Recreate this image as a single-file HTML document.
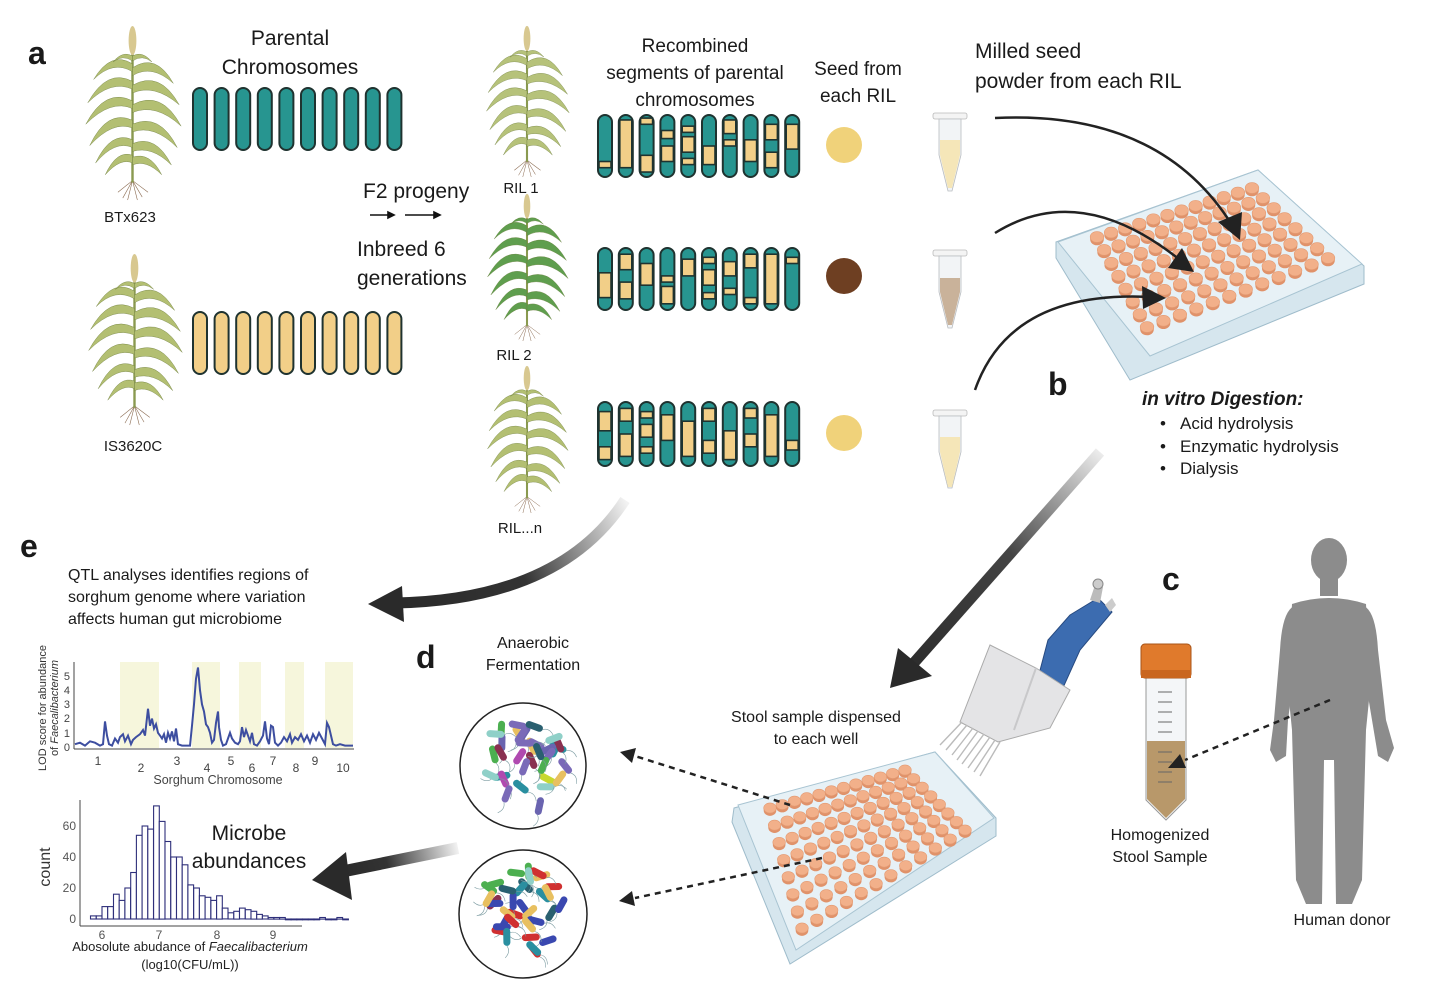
<!DOCTYPE html>
<html><head><meta charset="utf-8">
<style>
html,body{margin:0;padding:0;background:#fff;}
svg{display:block;font-family:"Liberation Sans",sans-serif;}
</style></head>
<body>
<svg id="s" width="1430" height="1001" viewBox="0 0 1430 1001" xmlns="http://www.w3.org/2000/svg">
<defs>
<symbol id="plant" viewBox="0 0 100 180" overflow="visible">
  <g stroke="#8a6a50" stroke-width="0.6" fill="none">
    <path d="M50 160 L40 178 M50 160 L45 180 M50 160 L55 180 M50 160 L60 177 M50 160 L35 172 M50 160 L66 172"/>
  </g>
  <path d="M50 30 L50 162" stroke="#8a9a50" stroke-width="2.5"/>
  <ellipse cx="50" cy="16" rx="4" ry="15" fill="#d8c890"/>
  <g fill="currentColor" stroke="#6a7a3a" stroke-width="0.4">
    <path d="M50 40 Q28 26 10 56 Q30 36 50 48Z"/>
    <path d="M50 44 Q74 28 92 60 Q70 40 50 52Z"/>
    <path d="M50 58 Q24 44 4 80 Q28 56 50 66Z"/>
    <path d="M50 62 Q78 46 98 82 Q72 60 50 70Z"/>
    <path d="M50 78 Q22 64 2 102 Q28 76 50 86Z"/>
    <path d="M50 82 Q80 66 100 104 Q74 80 50 90Z"/>
    <path d="M50 98 Q24 86 6 124 Q30 98 50 106Z"/>
    <path d="M50 102 Q78 90 96 126 Q72 102 50 110Z"/>
    <path d="M50 118 Q28 108 12 142 Q32 118 50 126Z"/>
    <path d="M50 122 Q74 112 90 144 Q70 124 50 130Z"/>
    <path d="M50 134 Q34 128 22 154 Q38 136 50 142Z"/>
    <path d="M50 136 Q68 130 80 154 Q64 138 50 144Z"/>
    <path d="M50 32 Q40 26 30 38 Q40 30 50 37Z"/>
    <path d="M50 32 Q60 26 70 38 Q60 30 50 37Z"/>
  </g>
</symbol>
<symbol id="mtube" viewBox="0 0 34 80" overflow="visible">
  <rect x="0" y="0" width="34" height="6" rx="2" fill="#f4f4f4" stroke="#bbb" stroke-width="0.8"/>
  <path d="M6 6 L28 6 L28 42 L19 78 L15 78 L6 42Z" fill="#f2f4f6" stroke="#b8bcc0" stroke-width="0.8"/>
</symbol>
<linearGradient id="gA" gradientUnits="userSpaceOnUse" x1="1100" y1="450" x2="900" y2="680"><stop offset="0" stop-color="#eee"/><stop offset="0.45" stop-color="#444"/><stop offset="1" stop-color="#2a2a2a"/></linearGradient>
<linearGradient id="gB" gradientUnits="userSpaceOnUse" x1="625" y1="500" x2="400" y2="605"><stop offset="0" stop-color="#f2f2f2"/><stop offset="0.5" stop-color="#333"/><stop offset="1" stop-color="#2a2a2a"/></linearGradient>
<linearGradient id="gC" gradientUnits="userSpaceOnUse" x1="458" y1="848" x2="340" y2="875"><stop offset="0" stop-color="#f2f2f2"/><stop offset="0.6" stop-color="#333"/><stop offset="1" stop-color="#2a2a2a"/></linearGradient>
</defs>

<g fill="#1a1a1a">
<text x="28" y="64" font-size="32" font-weight="bold">a</text>
<text x="290" y="45" font-size="21" text-anchor="middle">Parental</text>
<text x="290" y="74" font-size="21" text-anchor="middle">Chromosomes</text>
<text x="130" y="222" font-size="15" text-anchor="middle">BTx623</text>
<text x="133" y="451" font-size="15" text-anchor="middle">IS3620C</text>
<text x="363" y="198" font-size="21">F2 progeny</text>
<text x="357" y="256" font-size="21">Inbreed 6</text>
<text x="357" y="285" font-size="21">generations</text>
<text x="521" y="193" font-size="15" text-anchor="middle">RIL 1</text>
<text x="514" y="360" font-size="15" text-anchor="middle">RIL 2</text>
<text x="520" y="533" font-size="15" text-anchor="middle">RIL...n</text>
<text x="695" y="52" font-size="19" text-anchor="middle">Recombined</text>
<text x="695" y="79" font-size="19" text-anchor="middle">segments of parental</text>
<text x="695" y="106" font-size="19" text-anchor="middle">chromosomes</text>
<text x="858" y="75" font-size="19" text-anchor="middle">Seed from</text>
<text x="858" y="102" font-size="19" text-anchor="middle">each RIL</text>
<text x="975" y="58" font-size="21">Milled seed</text>
<text x="975" y="88" font-size="21">powder from each RIL</text>
<text x="1048" y="395" font-size="32" font-weight="bold">b</text>
<text x="1142" y="405" font-size="19" font-weight="bold" font-style="italic">in vitro Digestion:</text>
<text x="1160" y="429" font-size="17">•</text><text x="1180" y="429" font-size="17">Acid hydrolysis</text>
<text x="1160" y="452" font-size="17">•</text><text x="1180" y="452" font-size="17">Enzymatic hydrolysis</text>
<text x="1160" y="474" font-size="17">•</text><text x="1180" y="474" font-size="17">Dialysis</text>
<text x="20" y="557" font-size="32" font-weight="bold">e</text>
<text x="68" y="580" font-size="16">QTL analyses identifies regions of</text>
<text x="68" y="602" font-size="16">sorghum genome where variation</text>
<text x="68" y="624" font-size="16">affects human gut microbiome</text>
<text x="416" y="668" font-size="32" font-weight="bold">d</text>
<text x="533" y="648" font-size="16" text-anchor="middle">Anaerobic</text>
<text x="533" y="670" font-size="16" text-anchor="middle">Fermentation</text>
<text x="816" y="722" font-size="16" text-anchor="middle">Stool sample dispensed</text>
<text x="816" y="744" font-size="16" text-anchor="middle">to each well</text>
<text x="1162" y="590" font-size="32" font-weight="bold">c</text>
<text x="1160" y="840" font-size="16" text-anchor="middle">Homogenized</text>
<text x="1160" y="862" font-size="16" text-anchor="middle">Stool Sample</text>
<text x="1342" y="925" font-size="16" text-anchor="middle">Human donor</text>
<text x="249" y="840" font-size="21" text-anchor="middle">Microbe</text>
<text x="249" y="868" font-size="21" text-anchor="middle">abundances</text>
</g>

<use href="#plant" x="80" y="25" width="105" height="175" style="color:#b3bf72"/>
<use href="#plant" x="82" y="253" width="105" height="172" style="color:#b3bf72"/>
<use href="#plant" x="478" y="25" width="98" height="152" style="color:#b6c27a"/>
<use href="#plant" x="478" y="193" width="98" height="148" style="color:#5f9e4e"/>
<use href="#plant" x="478" y="365" width="98" height="148" style="color:#b3bf72"/>

<g stroke="#111" stroke-width="1.6" fill="#111">
<line x1="370" y1="215" x2="390" y2="215"/><path d="M394 215 l-6 -3 v6z"/>
<line x1="405" y1="215" x2="436" y2="215"/><path d="M440 215 l-6 -3 v6z"/>
</g>

<g id="chroms"></g>

<circle cx="844" cy="145" r="18" fill="#f0d27a"/>
<circle cx="844" cy="276" r="18" fill="#6e3f22"/>
<circle cx="844" cy="433" r="18" fill="#f0d27a"/>

<use href="#mtube" x="933" y="113" width="34" height="80"/>
<path d="M940 140 L960 140 L960 155 L952 188 L948 188 L940 155Z" fill="#f5e6b8"/>
<use href="#mtube" x="933" y="250" width="34" height="80"/>
<path d="M940 278 L960 278 L960 292 L952 325 L948 325 L940 292Z" fill="#c9b29a"/>
<use href="#mtube" x="933" y="410" width="34" height="80"/>
<path d="M940 437 L960 437 L960 452 L952 487 L948 487 L940 452Z" fill="#f5e6b8"/>

<g id="plates"></g>

<g fill="none" stroke="#222" stroke-width="2.5">
<path d="M995 118 Q1160 110 1232 225"/>
<path d="M995 233 Q1080 180 1180 260"/>
<path d="M975 390 Q1010 290 1150 297"/>
</g>
<g fill="#222">
<path d="M1240 240 L1218 222 L1242 212Z"/>
<path d="M1194 272 L1168 268 L1182 248Z"/>
<path d="M1166 298 L1143 309 L1142 286Z"/>
</g>

<path d="M1100 452 L912 665" stroke="url(#gA)" stroke-width="11" fill="none"/>
<path d="M890 688 L898 648 L932 676Z" fill="#2a2a2a"/>
<path d="M625 500 Q560 600 395 603" stroke="url(#gB)" stroke-width="11" fill="none"/>
<path d="M368 604 L402 586 L404 622Z" fill="#2a2a2a"/>
<path d="M458 848 Q400 860 340 872" stroke="url(#gC)" stroke-width="12" fill="none"/>
<path d="M312 880 L346 852 L352 900Z" fill="#2a2a2a"/>

<circle cx="523" cy="766" r="63" fill="#fff" stroke="#222" stroke-width="1.5"/>
<circle cx="523" cy="914" r="64" fill="#fff" stroke="#222" stroke-width="1.5"/>
<g id="bugs"></g>

<g>
<path d="M1070 615 L1098 598 L1112 612 L1080 650 L1062 690 L1038 678 L1048 640Z" fill="#3c6cb0" stroke="#274a80" stroke-width="1"/>
<path d="M1090 600 L1095 585 L1103 587 L1100 603Z" fill="#bbb"/>
<circle cx="1098" cy="584" r="5" fill="#ccc" stroke="#888"/>
<path d="M1105 605 L1112 598 L1116 605 L1110 612Z" fill="#ccc"/>
<path d="M990 645 L1036 668 L1070 690 L1050 728 L998 742 L960 722Z" fill="#e4e4e6" stroke="#aaa" stroke-width="1"/>
<path d="M1036 668 L1014 730" stroke="#c8c8ca" stroke-width="2"/>
<g stroke="#bbb" stroke-width="1.4">
<line x1="962" y1="722" x2="940" y2="745"/><line x1="967" y1="725" x2="946" y2="750"/><line x1="973" y1="728" x2="952" y2="755"/><line x1="978" y1="731" x2="957" y2="760"/><line x1="984" y1="734" x2="962" y2="764"/><line x1="990" y1="737" x2="968" y2="768"/><line x1="995" y1="740" x2="974" y2="772"/><line x1="1000" y1="742" x2="980" y2="776"/>
</g>
</g>

<g>
<path d="M1146 676 L1186 676 L1186 800 L1166 820 L1146 800Z" fill="#f4f6f8" stroke="#999" stroke-width="1"/>
<path d="M1147 741 L1185 741 L1185 799 L1166 818 L1147 799Z" fill="#b8986a"/>
<rect x="1141" y="644" width="50" height="34" rx="4" fill="#e07a2c" stroke="#a85418"/>
<rect x="1141" y="670" width="50" height="8" fill="#c9661f"/>
<g stroke="#666" stroke-width="1"><line x1="1158" y1="692" x2="1172" y2="692"/><line x1="1158" y1="702" x2="1172" y2="702"/><line x1="1158" y1="712" x2="1172" y2="712"/><line x1="1158" y1="722" x2="1172" y2="722"/><line x1="1158" y1="732" x2="1172" y2="732"/><line x1="1158" y1="752" x2="1172" y2="752"/><line x1="1158" y1="762" x2="1172" y2="762"/><line x1="1158" y1="772" x2="1172" y2="772"/><line x1="1158" y1="782" x2="1172" y2="782"/></g>
</g>

<g fill="#8c8c8c">
<ellipse cx="1329" cy="560" rx="18" ry="22"/>
<rect x="1320" y="578" width="18" height="18"/>
<path d="M1292 604 Q1329 592 1366 604 L1370 690 L1366 730 L1362 880 L1352 904 L1336 904 L1334 760 L1324 760 L1322 904 L1306 904 L1296 880 L1292 730 L1288 690Z"/>
<path d="M1294 606 Q1282 612 1280 650 L1274 720 L1270 750 L1276 762 L1286 756 L1288 720 L1296 660Z"/>
<path d="M1364 606 Q1376 612 1378 650 L1386 720 L1394 748 L1388 762 L1378 756 L1372 720 L1362 660Z"/>
</g>

<g stroke="#222" stroke-width="2.5" stroke-dasharray="6 5" fill="none">
<path d="M790 805 L635 756"/>
<path d="M822 858 L635 898"/>
<path d="M1330 700 L1185 760"/>
</g>
<g fill="#222">
<path d="M620 752 L636 748 L632 763Z"/>
<path d="M619 901 L632 891 L635 906Z"/>
<path d="M1168 768 L1180 754 L1186 768Z"/>
</g>

<g id="lod">
<rect x="120" y="662" width="39" height="86" fill="#f6f6dc"/>
<rect x="192" y="662" width="28" height="86" fill="#f6f6dc"/>
<rect x="239" y="662" width="22" height="86" fill="#f6f6dc"/>
<rect x="285" y="662" width="19" height="86" fill="#f6f6dc"/>
<rect x="325" y="662" width="28" height="86" fill="#f6f6dc"/>
<line x1="74" y1="662" x2="74" y2="749" stroke="#444" stroke-width="1"/>
<line x1="74" y1="749" x2="354" y2="749" stroke="#444" stroke-width="1"/>
<g font-size="11" fill="#444" text-anchor="end">
<text x="70" y="751">0</text><text x="70" y="737">1</text><text x="70" y="722">2</text><text x="70" y="708">3</text><text x="70" y="694">4</text><text x="70" y="680">5</text>
</g>
<g font-size="12" fill="#444" text-anchor="middle">
<text x="98" y="765">1</text><text x="141" y="772">2</text><text x="177" y="765">3</text><text x="207" y="772">4</text><text x="231" y="765">5</text><text x="252" y="772">6</text><text x="273" y="765">7</text><text x="296" y="772">8</text><text x="315" y="765">9</text><text x="343" y="772">10</text>
<text x="218" y="784" font-size="12.5">Sorghum Chromosome</text>
</g>
<text transform="translate(46,708) rotate(-90)" font-size="11" fill="#333" text-anchor="middle">LOD score for abundance</text>
<text transform="translate(58,708) rotate(-90)" font-size="11" fill="#333" text-anchor="middle">of <tspan font-style="italic">Faecalibacterium</tspan></text>
<polyline id="lodline" fill="none" stroke="#3d4ea0" stroke-width="2"/>
</g>

<g id="hist">
<line x1="80" y1="800" x2="80" y2="926" stroke="#444"/>
<line x1="80" y1="926" x2="302" y2="926" stroke="#444"/>
<g font-size="12" fill="#555" text-anchor="end">
<text x="76" y="923">0</text><text x="76" y="892">20</text><text x="76" y="861">40</text><text x="76" y="830">60</text>
</g>
<g font-size="12" fill="#555" text-anchor="middle">
<text x="102" y="939">6</text><text x="159" y="939">7</text><text x="217" y="939">8</text><text x="273" y="939">9</text>
</g>
<text transform="translate(50,867) rotate(-90)" font-size="16" fill="#333" text-anchor="middle">count</text>
<text x="190" y="951" font-size="13" fill="#222" text-anchor="middle">Abosolute abudance of <tspan font-style="italic">Faecalibacterium</tspan></text>
<text x="190" y="969" font-size="13" fill="#222" text-anchor="middle">(log10(CFU/mL))</text>
<g id="bars"></g>
</g>
</svg>
<script>
var NS="http://www.w3.org/2000/svg";
function el(p,t,a){var e=document.createElementNS(NS,t);for(var k in a)e.setAttribute(k,a[k]);p.appendChild(e);return e;}
var seed=7;function rnd(){seed=(seed*16807)%2147483647;return seed/2147483647;}
var ch=document.getElementById("chroms");
function chrom(x,y,w,h,segs,base){
  var g=el(ch,"g",{});
  el(g,"rect",{x:x,y:y,width:w,height:h,rx:w/2,fill:base,stroke:"#1f3330","stroke-width":2});
  segs.forEach(function(s){el(g,"rect",{x:x+1,y:y+h*s[0],width:w-2,height:h*(s[1]-s[0]),fill:"#f2cf88",stroke:"#1f3330","stroke-width":1.6});});
}
for(var i=0;i<10;i++){chrom(193+i*21.6,88,14,62,[],"#279590");chrom(193+i*21.6,312,14,62,[],"#f2cf88");}
var rows=[[115,62],[248,62],[402,64]];
var pats=[
[[[0.75,0.85]],[[0.08,0.85]],[[0.05,0.15],[0.65,0.92]],[[0.25,0.38],[0.5,0.75]],[[0.18,0.28],[0.35,0.6],[0.7,0.8]],[[0.5,0.8]],[[0.08,0.3],[0.4,0.5]],[[0.4,0.75]],[[0.15,0.4],[0.6,0.85]],[[0.15,0.55]]],
[[[0.4,0.8]],[[0.1,0.35],[0.55,0.82]],[[0.25,0.6]],[[0.45,0.55],[0.62,0.9]],[[0.18,0.45]],[[0.15,0.25],[0.35,0.6],[0.72,0.82]],[[0.22,0.45],[0.65,0.75]],[[0.1,0.32],[0.8,0.9]],[[0.1,0.9]],[[0.15,0.25]]],
[[[0.15,0.45],[0.7,0.9]],[[0.1,0.3],[0.5,0.85]],[[0.15,0.25],[0.35,0.55],[0.7,0.8]],[[0.2,0.6]],[[0.3,0.85]],[[0.1,0.3],[0.6,0.8]],[[0.45,0.9]],[[0.1,0.25],[0.5,0.7]],[[0.2,0.85]],[[0.6,0.75]]]];
rows.forEach(function(r,ri){for(var i=0;i<10;i++)chrom(598+i*20.8,r[0],14,r[1],pats[ri][i],"#279590");});

var pl=document.getElementById("plates");
function plate(face,base,c,rx){
  el(pl,"polygon",{points:base.map(function(p){return p.join(",")}).join(" "),fill:"#d6e6ee",stroke:"#9fbccb","stroke-width":1});
  el(pl,"polygon",{points:face.map(function(p){return p.join(",")}).join(" "),fill:"#e7f1f6",stroke:"#a8c4d2","stroke-width":1});
  for(var j=0;j<8;j++)for(var i=0;i<12;i++){
    var s=i/11,t=j/7;
    var x=(1-s)*(1-t)*c[0][0]+s*(1-t)*c[1][0]+(1-s)*t*c[2][0]+s*t*c[3][0];
    var y=(1-s)*(1-t)*c[0][1]+s*(1-t)*c[1][1]+(1-s)*t*c[2][1]+s*t*c[3][1];
    el(pl,"ellipse",{cx:x,cy:y+2.5,rx:rx,ry:rx*0.85,fill:"#e0926a"});
    el(pl,"ellipse",{cx:x,cy:y,rx:rx,ry:rx*0.8,fill:"#f2b08a",stroke:"#e39a72","stroke-width":0.6});
  }
}
plate([[1058,242],[1258,170],[1362,264],[1150,356]],[[1056,242],[1258,170],[1364,266],[1364,284],[1130,380],[1056,258]],
 [[1097,237],[1252,188],[1147,327],[1328,258]],6.8);
plate([[738,805],[935,752],[994,818],[796,950]],[[734,808],[935,752],[996,818],[996,836],[790,964],[732,822]],
 [[770,808],[905,770],[802,928],[965,830]],6.3);

var bg=document.getElementById("bugs");
var cols1=["#c8d830","#4caf50","#7a6ab8","#8a3050","#b04ab0","#2a8fa0","#6a64b0","#e8c060","#2a6070","#8fd0c8"];
var cols2=["#3a48b0","#4caf50","#d03030","#8a3050","#2a8fa0","#3a48b0","#e8c060","#2a6070","#8fd0c8","#d03030"];
[[523,766,cols1],[523,914,cols2]].forEach(function(c){
  for(var k=0;k<34;k++){
    var a=rnd()*6.28,r=Math.sqrt(rnd())*44;
    var x=c[0]+Math.cos(a)*r,y=c[1]+Math.sin(a)*r;
    var ang=rnd()*180,col=c[2][Math.floor(rnd()*c[2].length)];
    var g=el(bg,"g",{transform:"translate("+x.toFixed(1)+","+y.toFixed(1)+") rotate("+ang.toFixed(0)+")"});
    el(g,"path",{d:"M9 0 q6 -4 12 2",stroke:"#7a9aa0","stroke-width":0.6,fill:"none"});
    el(g,"rect",{x:-9,y:-3.5,width:18,height:7,rx:3.5,fill:col});
  }
});

var L=[75,.2,80,.3,85,.1,90,.4,95,.3,100,.1,103,.2,105,1.8,107,.8,109,.2,112,.1,115,.6,118,.3,120,.7,123,.9,125,.4,128,.8,131,.2,133,.5,136,.7,140,.9,143,1.2,145,.8,148,2.7,150,1.5,152,2,154,1.3,156,1.6,158,1,160,.8,162,.6,164,.9,166,.3,168,1,170,.6,172,1.1,174,.4,176,1.3,178,.2,182,.1,186,.1,190,.1,192,1.5,194,3,196,4.8,198,5.6,200,4,202,3,204,2.5,206,1.6,208,1.4,210,1,212,.3,214,.5,216,1.7,218,2.5,219,1.4,221,.5,223,.1,226,.2,228,.6,230,1,232,.6,235,.3,238,.2,240,.4,242,1.4,244,.7,246,1.2,248,.8,250,.4,252,1,254,.2,257,.1,260,.4,263,.8,265,1.8,267,.6,269,.2,271,1.5,273,1.4,275,.3,278,.1,281,.3,284,.7,287,.4,290,.9,292,.3,295,.7,298,.5,301,.9,304,.4,307,.8,310,.3,313,.9,316,.5,319,1,322,.6,325,.2,327,1.7,329,1.4,331,.8,333,.2,336,.1,340,.2,345,.1,353,.1];
var pts=[];for(var i=0;i<L.length;i+=2)pts.push(L[i]+","+(747-L[i+1]*14.2).toFixed(1));
document.getElementById("lodline").setAttribute("points",pts.join(" "));

var H=[2,2,8,8,16,12,20,30,54,60,58,73,63,50,40,40,35,22,20,15,14,12,15,7,4,5,7,6,5,3,2,1,1,1,0,0,0,0,0,0,1,0,0,1,0];
var bars=document.getElementById("bars");
for(var i=0;i<H.length;i++){var x=102+(5.8+i*0.1-6)*57.3;var h=H[i]*1.55;
 el(bars,"rect",{x:x.toFixed(1),y:(919-h).toFixed(1),width:5.7,height:Math.max(h,0.8).toFixed(1),fill:"#fff",stroke:"#2e2f7a","stroke-width":1.1});}
</script>
</body></html>
